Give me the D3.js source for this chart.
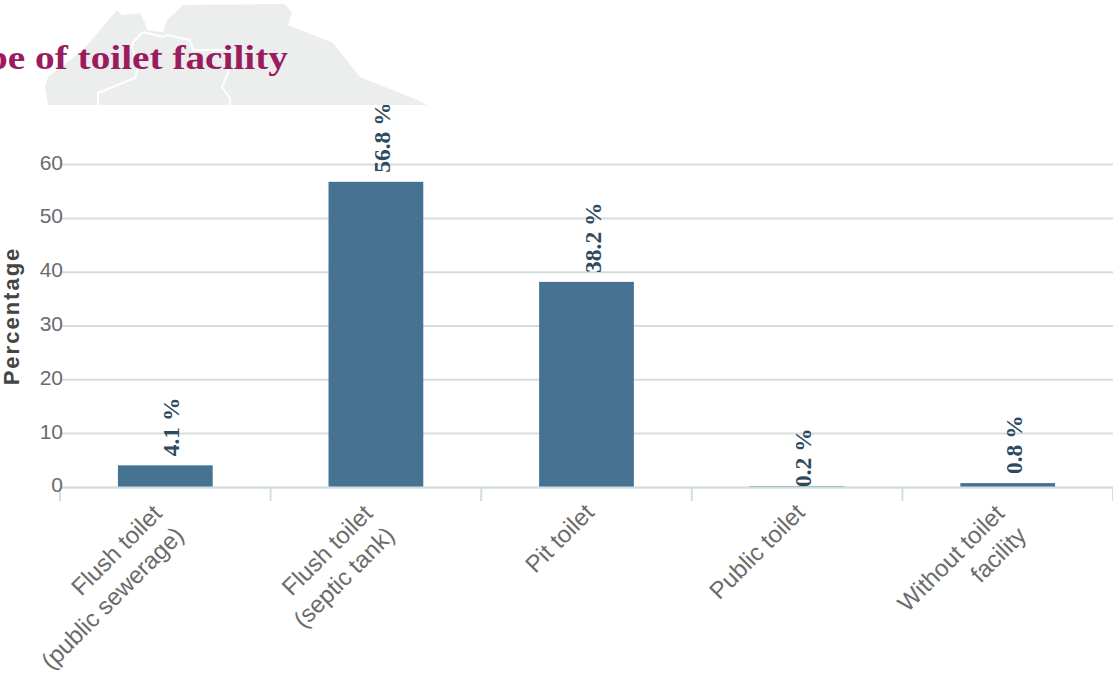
<!DOCTYPE html>
<html>
<head>
<meta charset="utf-8">
<style>
  html, body { margin: 0; padding: 0; background: #fff; overflow: hidden; }
  .grid line { stroke: #d5dedf; stroke-width: 2; }
  .axis-text { font-family: "Liberation Sans", Arial, sans-serif; fill: #6b6b6b; }
</style>
</head>
<body>
<div id="chart"></div>
<script src="https://cdnjs.cloudflare.com/ajax/libs/d3/7.8.5/d3.min.js"></script>
<script>
// Chart data
const categories = [
  ["Flush toilet", "(public sewerage)"],
  ["Flush toilet", "(septic tank)"],
  ["Pit toilet"],
  ["Public toilet"],
  ["Without toilet", "facility"]
];
const percentages = [4.1, 56.8, 38.2, 0.2, 0.8];
const yTicks = [0, 10, 20, 30, 40, 50, 60];
const titleText = "Type of toilet facility";
const yTitle = "Percentage";

const width = 1113, height = 674;

const svg = d3.select("#chart").append("svg")
    .attr("width", width)
    .attr("height", height)
    .style("display", "block");

// Scales
const x = d3.scaleBand()
    .domain(d3.range(categories.length))
    .range([60, 1113])
    .paddingInner(0.55)
    .paddingOuter(0.275);

const y = d3.scaleLinear()
    .domain([0, 60])
    .range([487.4, 164.6]);

// Horizontal grid lines
svg.append("g")
    .attr("class", "grid")
  .selectAll("line")
    .data(yTicks)
  .enter().append("line")
    .attr("x1", 60)
    .attr("x2", 1113)
    .attr("y1", d => y(d))
    .attr("y2", d => y(d));

// Bars
svg.selectAll(".bar")
    .data(percentages)
  .enter().append("rect")
    .attr("class", "bar")
    .attr("x", (d, i) => x(i))
    .attr("y", d => y(d))
    .attr("width", x.bandwidth())
    .attr("height", d => y(0) - y(d))
    .attr("fill", "#477392");

// Zero line stays on top of the bars
svg.append("line")
    .attr("x1", 60)
    .attr("x2", 1113)
    .attr("y1", y(0))
    .attr("y2", y(0))
    .attr("stroke", "#d5dedf")
    .attr("stroke-width", 2);

// Category separators under the axis
const step = x.step();
svg.append("g")
  .selectAll("line")
    .data(d3.range(categories.length + 1))
  .enter().append("line")
    .attr("x1", d => 60 + d * step)
    .attr("x2", d => 60 + d * step)
    .attr("y1", 488)
    .attr("y2", 501)
    .attr("stroke", "#d5dedf")
    .attr("stroke-width", 2);

// Value labels
svg.selectAll(".value")
    .data(percentages)
  .enter().append("text")
    .attr("class", "value")
    .attr("transform", (d, i) => "translate(" + (x(i) + x.bandwidth() / 2 + 14) + "," + (d < 0.5 ? 487 : y(d) - 9) + ") rotate(-90)")
    .attr("font-family", "'Liberation Serif', serif")
    .attr("font-weight", "bold")
    .attr("font-size", "23.5px")
    .attr("fill", "#2e4a5f")
    .text(d => d + " %");

// Y tick labels
svg.selectAll(".ytick")
    .data(yTicks)
  .enter().append("text")
    .attr("class", "axis-text")
    .attr("x", 63)
    .attr("y", d => y(d) + 5)
    .attr("text-anchor", "end")
    .attr("font-size", "21px")
    .text(d => d);

// Y axis title
svg.append("text")
    .attr("transform", "translate(19,316) rotate(-90)")
    .attr("text-anchor", "middle")
    .attr("font-family", "'Liberation Sans', Arial, sans-serif")
    .attr("font-weight", "bold")
    .attr("font-size", "22px")
    .attr("letter-spacing", "2px")
    .attr("fill", "#444")
    .text(yTitle);

// Rotated category labels, single-line ones sit further right
const labels = svg.selectAll(".cat")
    .data(categories)
  .enter().append("text")
    .attr("class", "axis-text cat")
    .attr("transform", (d, i) => "translate(" + (x(i) + x.bandwidth() / 2 + (d.length === 1 ? 9 : -2)) + "," + (d.length === 1 ? 514 : 515) + ") rotate(-45)")
    .attr("text-anchor", "end")
    .attr("font-size", "24px");

labels.selectAll("tspan")
    .data(d => d)
  .enter().append("tspan")
    .attr("x", 0)
    .attr("dy", (d, i) => i === 0 ? 0 : 31)
    .text(d => d);

// Map backdrop behind the title; white band hides whatever pokes above its lower edge
svg.append("rect")
    .attr("width", width)
    .attr("height", 105)
    .attr("fill", "#fff");

const mapLine = d3.line();
const mapOutline = [[48,105],[45,87],[48,77],[83,50],[100,30],[117,10],[122,15],[140,13],[145,23],[147,30],[163,32],[167,20],[183,5],[285,4],[292,13],[288,25],[333,43],[360,77],[413,98],[427,105]];
svg.append("path")
    .attr("d", mapLine(mapOutline) + "Z")
    .attr("fill", "#eceeee");

const borders = [
  [[143,32],[163,37],[167,35],[190,40],[193,50],[230,50],[228,73],[222,87],[230,98],[230,105]],
  [[143,32],[133,42],[132,47],[138,67],[135,78],[98,93],[98,105]]
];
svg.selectAll(".border")
    .data(borders)
  .enter().append("path")
    .attr("d", mapLine)
    .attr("fill", "none")
    .attr("stroke", "#fff")
    .attr("stroke-width", 2);

// Title, cut off at the left edge as in the source picture
svg.append("text")
    .attr("transform", "translate(288,69) scale(1.19,1)")
    .attr("text-anchor", "end")
    .attr("font-family", "'Liberation Serif', serif")
    .attr("font-weight", "bold")
    .attr("font-size", "33px")
    .attr("fill", "#9b1b5f")
    .text(titleText);
</script>
</body>
</html>
